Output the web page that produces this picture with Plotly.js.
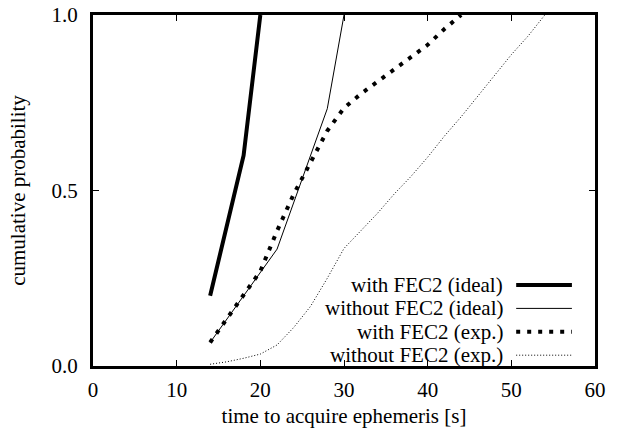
<!DOCTYPE html>
<html>
<head>
<meta charset="utf-8">
<script src="https://cdn.plot.ly/plotly-3.0.1.min.js"></script>
<style>html,body{margin:0;padding:0;background:#fff;}#chart{width:625px;height:435px;}</style>
</head>
<body>
<div id="chart"></div>
<script>
// Data
const seriesNames = ["with FEC2 (ideal)", "without FEC2 (ideal)", "with FEC2 (exp.)", "without FEC2 (exp.)"];
const withIdealX = [14, 18, 20];
const withIdealY = [0.2, 0.6, 1.0];
const withoutIdealX = [14, 22, 28, 30];
const withoutIdealY = [0.067, 0.333, 0.733, 1.0];
const withExpX = [14, 16, 18, 20, 22, 24, 26, 28, 30, 32, 34, 36, 38, 40, 42, 44];
const withExpY = [0.067, 0.135, 0.2, 0.27, 0.385, 0.49, 0.58, 0.67, 0.735, 0.775, 0.81, 0.845, 0.88, 0.915, 0.96, 1.0];
const withoutExpX = [14, 16, 18, 20, 22, 24, 26, 28, 30, 32, 34, 36, 38, 40, 42, 44, 46, 48, 50, 52, 54];
const withoutExpY = [0.005, 0.012, 0.022, 0.034, 0.06, 0.11, 0.17, 0.25, 0.335, 0.385, 0.435, 0.49, 0.54, 0.595, 0.655, 0.71, 0.77, 0.83, 0.887, 0.94, 1.0];
const xTicks = [0, 10, 20, 30, 40, 50, 60];
const yTicks = [0, 0.5, 1.0];

const styles = [
  {width: 4, dash: "solid"},
  {width: 1, dash: "solid"},
  {width: 4, dash: "4px,7px"},
  {width: 1, dash: "1px,2px"}
];
const xs = [withIdealX, withoutIdealX, withExpX, withoutExpX];
const ys = [withIdealY, withoutIdealY, withExpY, withoutExpY];

const traces = seriesNames.map((n, i) => ({
  x: xs[i], y: ys[i], name: n, type: "scatter", mode: "lines",
  line: {color: "#000", width: styles[i].width, dash: styles[i].dash},
  showlegend: false, hoverinfo: "skip"
}));

const font = {family: "'Liberation Serif', serif", size: 21, color: "#000"};

// Custom gnuplot-style legend: text right-aligned, sample line to the right
const legendRowY = [0.2308, 0.1641, 0.0974, 0.0308];
const annotations = seriesNames.map((n, i) => ({
  xref: "paper", yref: "paper", x: 0.819, y: legendRowY[i],
  xanchor: "right", yanchor: "middle", text: n, showarrow: false, font: font,
  borderpad: 0
}));
const shapes = seriesNames.map((n, i) => ({
  type: "line", xref: "paper", yref: "paper",
  x0: 0.843, x1: 0.954, y0: legendRowY[i], y1: legendRowY[i],
  line: {color: "#000", width: styles[i].width, dash: styles[i].dash}
}));

const layout = {
  width: 625, height: 435,
  margin: {l: 93, r: 30, t: 15, b: 69},
  paper_bgcolor: "#fff", plot_bgcolor: "#fff",
  font: font,
  showlegend: false,
  xaxis: {
    range: [0, 60], tickvals: xTicks, ticktext: xTicks.map(String),
    ticks: "inside", ticklen: 6, tickwidth: 1, tickcolor: "#000",
    showline: true, linewidth: 3, linecolor: "#000", mirror: "ticks",
    showgrid: false, zeroline: false, ticklabelstandoff: 3,
    title: {text: "time to acquire ephemeris [s]", font: font, standoff: 8},
    tickfont: font
  },
  yaxis: {
    range: [0, 1], tickvals: yTicks, ticktext: yTicks.map(v => v.toFixed(1)),
    ticks: "inside", ticklen: 6, tickwidth: 1, tickcolor: "#000",
    showline: true, linewidth: 3, linecolor: "#000", mirror: "ticks",
    showgrid: false, zeroline: false, ticklabelstandoff: 8,
    title: {text: "cumulative probability", font: font, standoff: 21},
    tickfont: font
  },
  annotations: annotations,
  shapes: shapes
};

Plotly.newPlot("chart", traces, layout, {staticPlot: true, displayModeBar: false});
</script>
</body>
</html>
